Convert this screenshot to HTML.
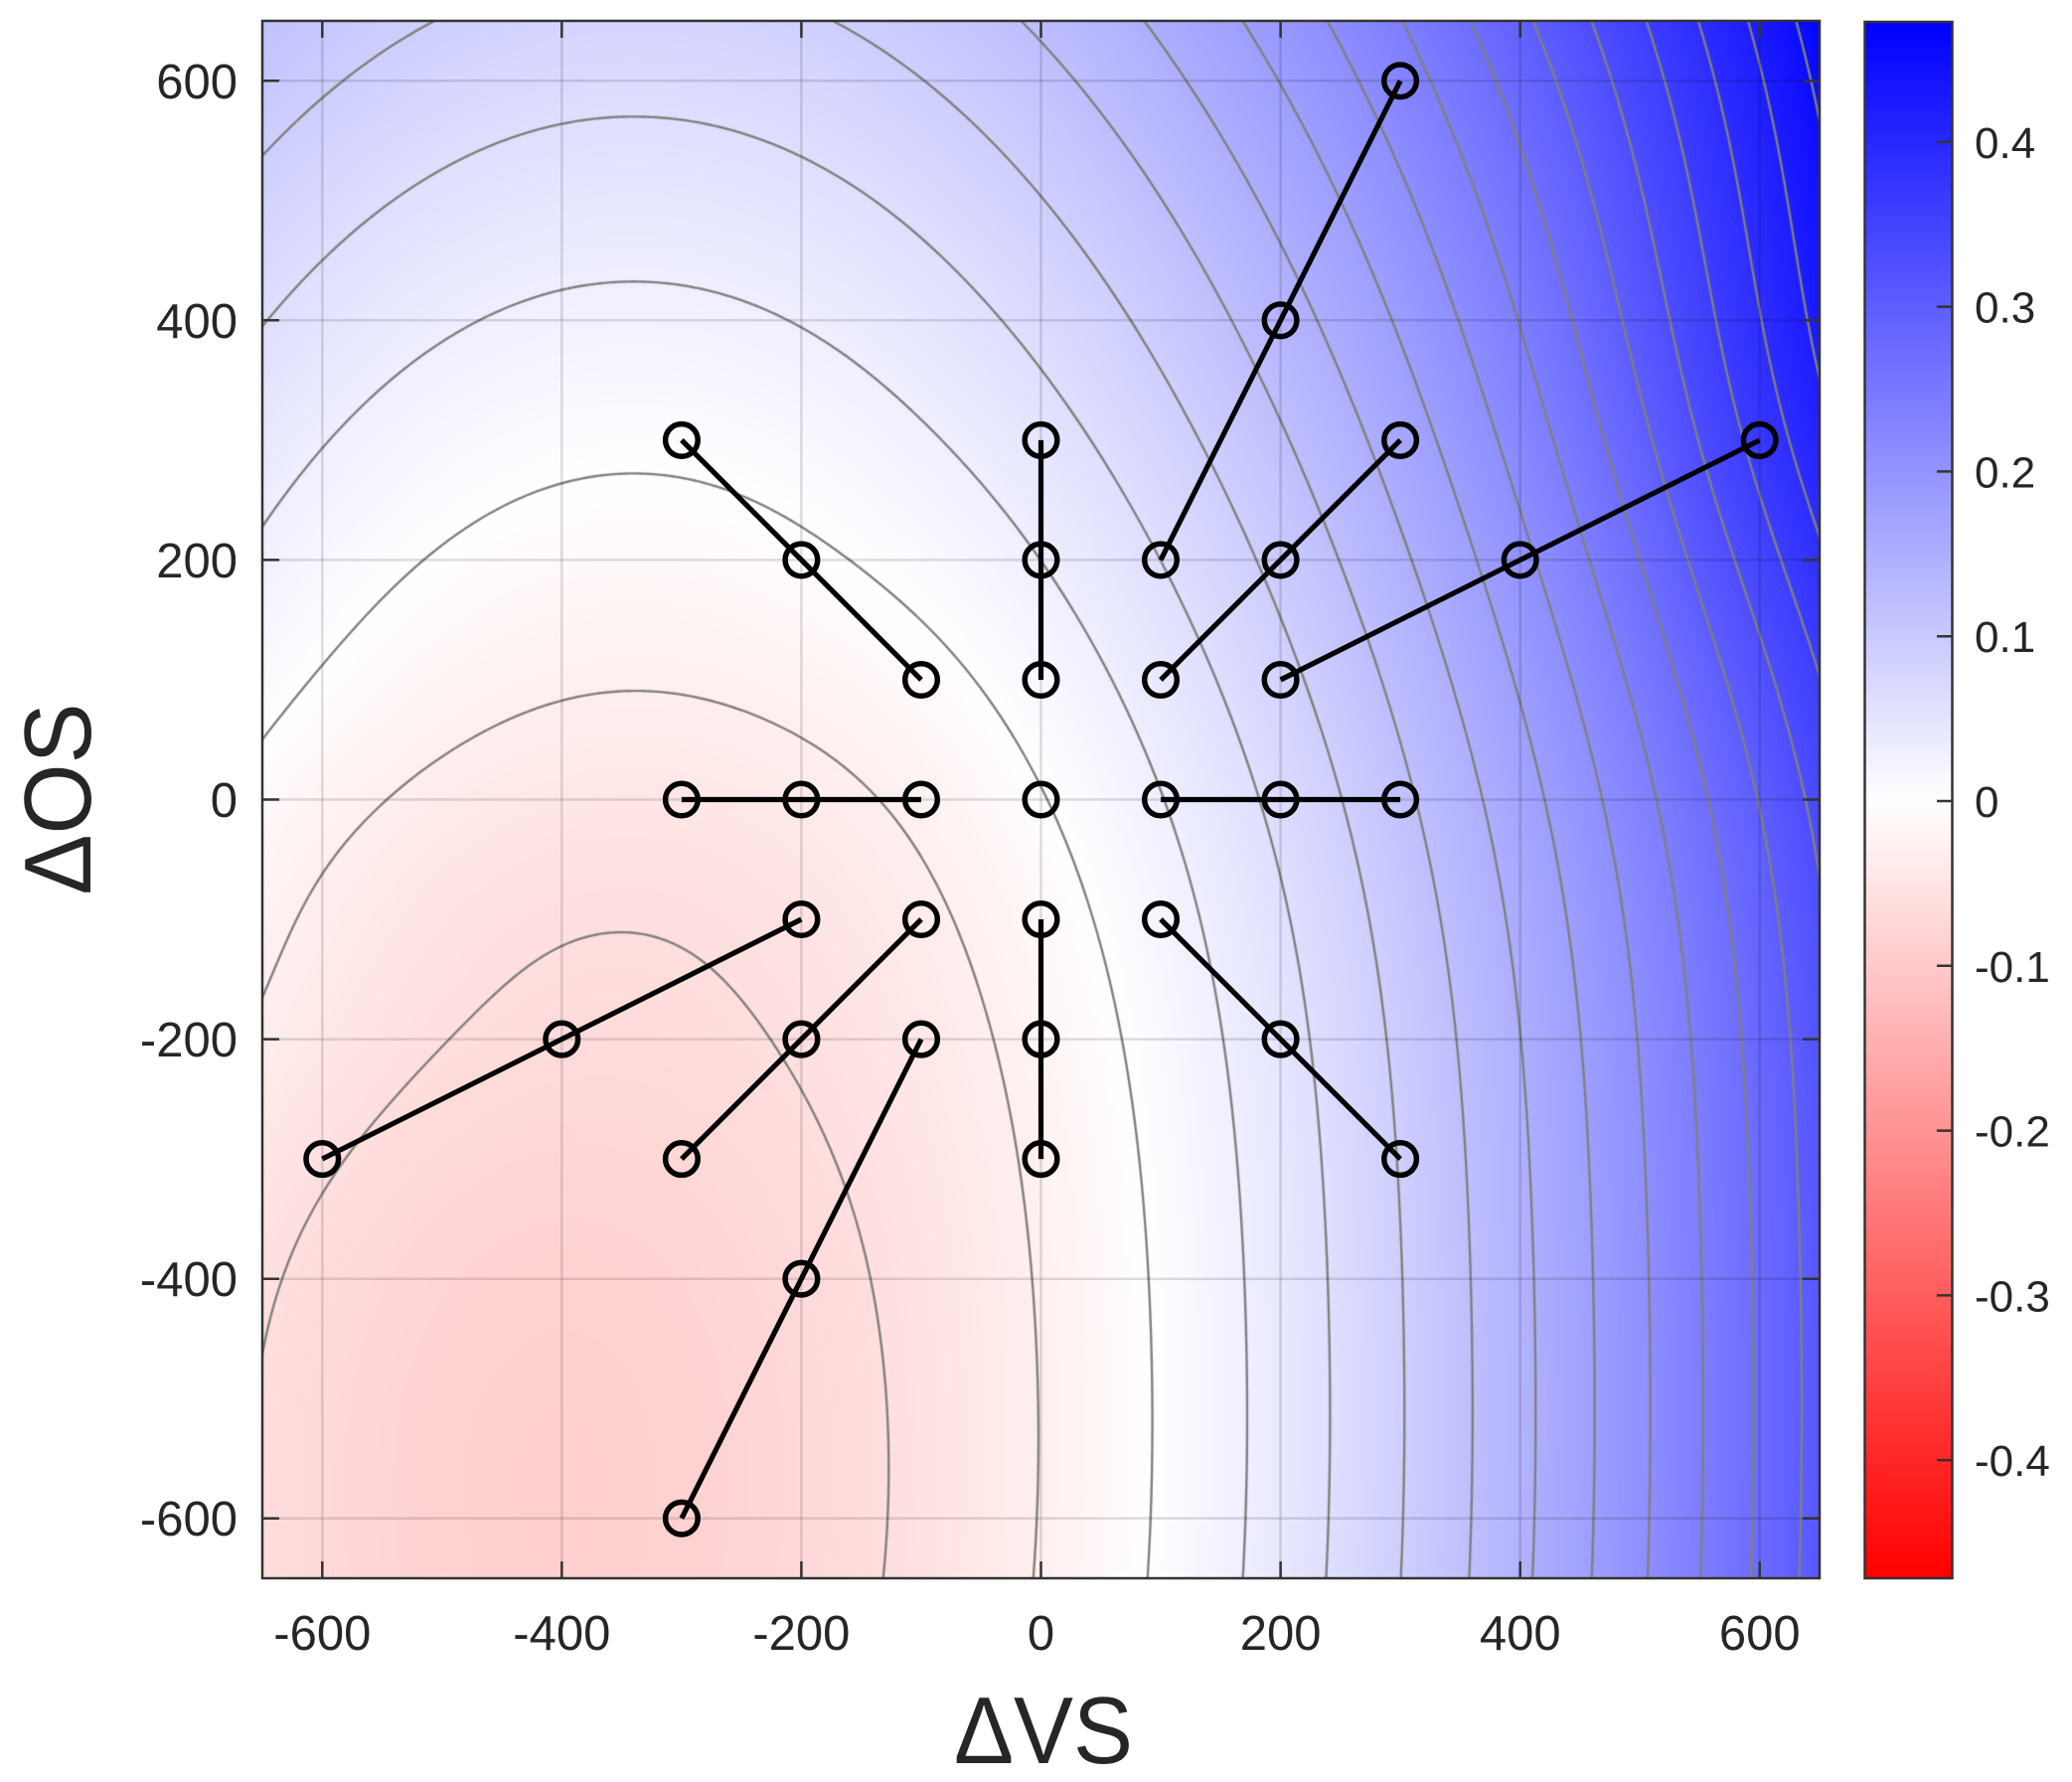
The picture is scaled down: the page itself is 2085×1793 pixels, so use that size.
<!DOCTYPE html>
<html>
<head>
<meta charset="utf-8">
<style>
html,body{margin:0;padding:0;background:#fff;width:2085px;height:1793px;overflow:hidden}
#fb{position:absolute;left:264px;top:21px;width:1567px;height:1567px;
background:linear-gradient(105deg,#fdd6d6 0%,#fff 45%,#b4b4ff 72%,#2a2aff 100%)}
canvas{position:absolute;left:264px;top:21px}
svg{position:absolute;left:0;top:0}
text{font-family:"Liberation Sans",Arial,sans-serif;fill:#262626}
</style>
</head>
<body>
<div id="fb"></div>
<canvas id="c" width="1567" height="1567"></canvas>
<svg width="2085" height="1793" viewBox="0 0 2085 1793">
<defs>
<linearGradient id="cb" x1="0" y1="0" x2="0" y2="1">
<stop offset="0" stop-color="#0000ff"/>
<stop offset="0.5006" stop-color="#ffffff"/>
<stop offset="1" stop-color="#ff0000"/>
</linearGradient>
</defs>
<!-- grid -->
<g stroke="rgba(0,0,0,0.13)" stroke-width="2.5">
<line x1="324.3" y1="21" x2="324.3" y2="1588"/>
<line x1="565.3" y1="21" x2="565.3" y2="1588"/>
<line x1="806.4" y1="21" x2="806.4" y2="1588"/>
<line x1="1047.5" y1="21" x2="1047.5" y2="1588"/>
<line x1="1288.6" y1="21" x2="1288.6" y2="1588"/>
<line x1="1529.7" y1="21" x2="1529.7" y2="1588"/>
<line x1="1770.7" y1="21" x2="1770.7" y2="1588"/>
<line x1="264" y1="81.3" x2="1831" y2="81.3"/>
<line x1="264" y1="322.3" x2="1831" y2="322.3"/>
<line x1="264" y1="563.4" x2="1831" y2="563.4"/>
<line x1="264" y1="804.5" x2="1831" y2="804.5"/>
<line x1="264" y1="1045.6" x2="1831" y2="1045.6"/>
<line x1="264" y1="1286.7" x2="1831" y2="1286.7"/>
<line x1="264" y1="1527.7" x2="1831" y2="1527.7"/>
</g>
<!-- data lines -->
<g stroke="#000" stroke-width="5.2" fill="none" stroke-linejoin="round">
<polyline points="685.9,442.9 806.4,563.4 927.0,684.0"/>
<polyline points="1047.5,442.9 1047.5,563.4 1047.5,684.0"/>
<polyline points="1168.0,563.4 1288.6,322.3 1409.1,81.3"/>
<polyline points="1168.0,684.0 1288.6,563.4 1409.1,442.9"/>
<polyline points="1288.6,684.0 1529.7,563.4 1770.7,442.9"/>
<polyline points="685.9,804.5 806.4,804.5 927.0,804.5"/>
<polyline points="1168.0,804.5 1288.6,804.5 1409.1,804.5"/>
<polyline points="806.4,925.0 565.3,1045.6 324.3,1166.1"/>
<polyline points="927.0,925.0 806.4,1045.6 685.9,1166.1"/>
<polyline points="927.0,1045.6 806.4,1286.7 685.9,1527.7"/>
<polyline points="1047.5,925.0 1047.5,1045.6 1047.5,1166.1"/>
<polyline points="1168.0,925.0 1288.6,1045.6 1409.1,1166.1"/>
</g>
<!-- markers -->
<g stroke="#000" stroke-width="5.5" fill="none">
<circle cx="685.9" cy="442.9" r="16.3"/><circle cx="806.4" cy="563.4" r="16.3"/><circle cx="927.0" cy="684.0" r="16.3"/>
<circle cx="1047.5" cy="442.9" r="16.3"/><circle cx="1047.5" cy="563.4" r="16.3"/><circle cx="1047.5" cy="684.0" r="16.3"/>
<circle cx="1168.0" cy="563.4" r="16.3"/><circle cx="1288.6" cy="322.3" r="16.3"/><circle cx="1409.1" cy="81.3" r="16.3"/>
<circle cx="1168.0" cy="684.0" r="16.3"/><circle cx="1288.6" cy="563.4" r="16.3"/><circle cx="1409.1" cy="442.9" r="16.3"/>
<circle cx="1288.6" cy="684.0" r="16.3"/><circle cx="1529.7" cy="563.4" r="16.3"/><circle cx="1770.7" cy="442.9" r="16.3"/>
<circle cx="685.9" cy="804.5" r="16.3"/><circle cx="806.4" cy="804.5" r="16.3"/><circle cx="927.0" cy="804.5" r="16.3"/>
<circle cx="1047.5" cy="804.5" r="16.3"/>
<circle cx="1168.0" cy="804.5" r="16.3"/><circle cx="1288.6" cy="804.5" r="16.3"/><circle cx="1409.1" cy="804.5" r="16.3"/>
<circle cx="806.4" cy="925.0" r="16.3"/><circle cx="565.3" cy="1045.6" r="16.3"/><circle cx="324.3" cy="1166.1" r="16.3"/>
<circle cx="927.0" cy="925.0" r="16.3"/><circle cx="806.4" cy="1045.6" r="16.3"/><circle cx="685.9" cy="1166.1" r="16.3"/>
<circle cx="927.0" cy="1045.6" r="16.3"/><circle cx="806.4" cy="1286.7" r="16.3"/><circle cx="685.9" cy="1527.7" r="16.3"/>
<circle cx="1047.5" cy="925.0" r="16.3"/><circle cx="1047.5" cy="1045.6" r="16.3"/><circle cx="1047.5" cy="1166.1" r="16.3"/>
<circle cx="1168.0" cy="925.0" r="16.3"/><circle cx="1288.6" cy="1045.6" r="16.3"/><circle cx="1409.1" cy="1166.1" r="16.3"/>
</g>
<!-- axes box and ticks -->
<g stroke="#333" stroke-width="2.5" fill="none">
<rect x="264" y="21" width="1567" height="1567"/>
<path d="M324.3 1588V1571M565.3 1588V1571M806.4 1588V1571M1047.5 1588V1571M1288.6 1588V1571M1529.7 1588V1571M1770.7 1588V1571
M324.3 21V38M565.3 21V38M806.4 21V38M1047.5 21V38M1288.6 21V38M1529.7 21V38M1770.7 21V38
M264 81.3H281M264 322.3H281M264 563.4H281M264 804.5H281M264 1045.6H281M264 1286.7H281M264 1527.7H281
M1831 81.3H1814M1831 322.3H1814M1831 563.4H1814M1831 804.5H1814M1831 1045.6H1814M1831 1286.7H1814M1831 1527.7H1814"/>
</g>
<!-- y tick labels -->
<g font-size="49" text-anchor="end">
<text x="239" y="98.8">600</text>
<text x="239" y="339.8">400</text>
<text x="239" y="580.9">200</text>
<text x="239" y="822">0</text>
<text x="239" y="1063.1">-200</text>
<text x="239" y="1304.2">-400</text>
<text x="239" y="1545.2">-600</text>
</g>
<!-- x tick labels -->
<g font-size="49" text-anchor="middle">
<text x="324.3" y="1660">-600</text>
<text x="565.3" y="1660">-400</text>
<text x="806.4" y="1660">-200</text>
<text x="1047.5" y="1660">0</text>
<text x="1288.6" y="1660">200</text>
<text x="1529.7" y="1660">400</text>
<text x="1770.7" y="1660">600</text>
</g>
<!-- axis labels -->
<text x="1050" y="1774" font-size="96" text-anchor="middle" textLength="180" lengthAdjust="spacingAndGlyphs">ΔVS</text>
<text transform="translate(91,804) rotate(-90)" x="0" y="0" font-size="96" text-anchor="middle" textLength="193" lengthAdjust="spacingAndGlyphs">ΔOS</text>
<!-- colorbar -->
<rect x="1876.5" y="22" width="88" height="1566" fill="url(#cb)" stroke="#333" stroke-width="2.5"/>
<path stroke="#333" stroke-width="2.5" d="M1949 142.8H1964.5M1949 308.6H1964.5M1949 474.4H1964.5M1949 640.2H1964.5M1949 806H1964.5M1949 971.8H1964.5M1949 1137.6H1964.5M1949 1303.4H1964.5M1949 1469.2H1964.5"/>
<g font-size="44">
<text x="1987" y="158.8">0.4</text>
<text x="1987" y="324.6">0.3</text>
<text x="1987" y="490.4">0.2</text>
<text x="1987" y="656.2">0.1</text>
<text x="1987" y="822">0</text>
<text x="1987" y="987.8">-0.1</text>
<text x="1987" y="1153.6">-0.2</text>
<text x="1987" y="1319.4">-0.3</text>
<text x="1987" y="1485.2">-0.4</text>
</g>
</svg>
<script>
(function(){
var c=document.getElementById('c');if(!c||!c.getContext)return;
var ctx=c.getContext('2d');
var W=1567,S=1.2054;
function f(x,y){
  var dx=x+340,dy=(y+550)/1.94;
  var v=3.9e-7*(dx*dx+dy*dy)-0.07;
  var w=130+170/(1+Math.exp(-(x+100)/60));
  var b=(y+60)/w; v-=0.008*Math.exp(-b*b);
  var sx=1/(1+Math.exp((x+345)/173)), sy=1/(1+Math.exp((y+242)/84));
  v-=0.0355*sx*sy;
  var cx=(x-650)/200, cy=(y-330)/230;
  v+=0.025*Math.exp(-cx*cx)*Math.exp(-cy*cy);
  return v;
}
var img=ctx.createImageData(W,W),d=img.data;
for(var j=0;j<W;j++){
  var y=650-(j+0.5)/S;
  for(var i=0;i<W;i++){
    var x=-650+(i+0.5)/S;
    var v=f(x,y);
    var t=Math.abs(v)/0.473; if(t>1)t=1;
    var g=Math.round(255*(1-t));
    var k=(j*W+i)*4;
    if(v>=0){d[k]=g;d[k+1]=g;d[k+2]=255;}else{d[k]=255;d[k+1]=g;d[k+2]=g;}
    d[k+3]=255;
  }
}
ctx.putImageData(img,0,0);
document.getElementById('fb').style.display='none';
// contours
var st=3,n=Math.floor(W/st)+2;
var G=[];
for(var j=0;j<n;j++){var row=new Float64Array(n);var yy=650-(j*st)/S;
  for(var i=0;i<n;i++){row[i]=f(-650+(i*st)/S,yy);}G.push(row);}
ctx.strokeStyle='rgb(128,128,124)';ctx.lineWidth=2.4;ctx.lineCap='round';ctx.lineJoin='round';
ctx.beginPath();
for(var L=-2;L<=16;L++){
  var lv=L*0.03;
  for(var j=0;j<n-1;j++){
    for(var i=0;i<n-1;i++){
      var a=G[j][i],b=G[j][i+1],cc=G[j+1][i+1],dd=G[j+1][i];
      var pts=[];
      if((a<lv)!=(b<lv)){pts.push([i+(lv-a)/(b-a),j]);}
      if((b<lv)!=(cc<lv)){pts.push([i+1,j+(lv-b)/(cc-b)]);}
      if((dd<lv)!=(cc<lv)){pts.push([i+(lv-dd)/(cc-dd),j+1]);}
      if((a<lv)!=(dd<lv)){pts.push([i,j+(lv-a)/(dd-a)]);}
      if(pts.length>=2){
        ctx.moveTo(pts[0][0]*st,pts[0][1]*st);ctx.lineTo(pts[1][0]*st,pts[1][1]*st);
        if(pts.length==4){ctx.moveTo(pts[2][0]*st,pts[2][1]*st);ctx.lineTo(pts[3][0]*st,pts[3][1]*st);}
      }
    }
  }
}
ctx.stroke();
})();
</script>
</body>
</html>
